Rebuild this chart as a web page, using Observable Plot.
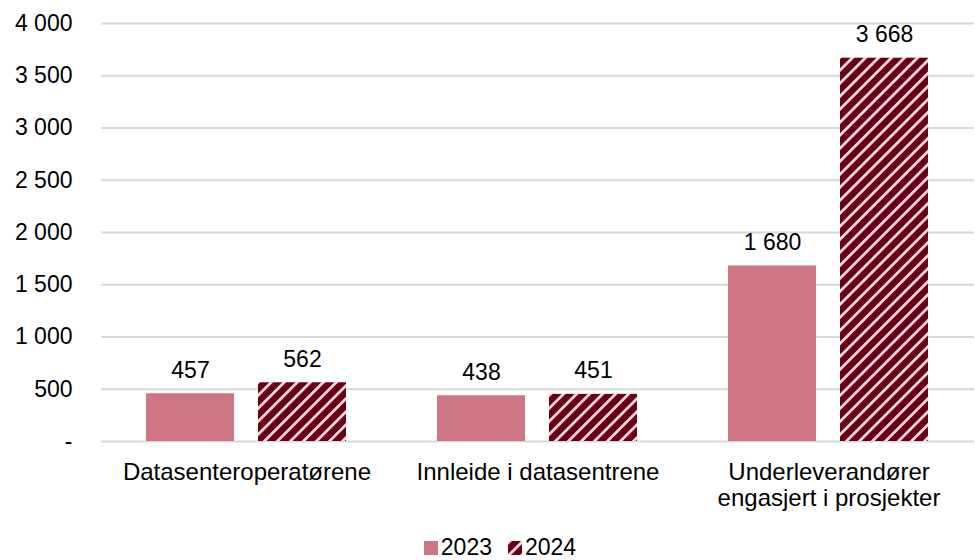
<!DOCTYPE html>
<html>
<head>
<meta charset="utf-8">
<script src="https://cdn.jsdelivr.net/npm/d3@7"></script>
<script src="https://cdn.jsdelivr.net/npm/@observablehq/plot@0.6"></script>
<style>
  html, body { margin: 0; padding: 0; background: #fff; }
  body { width: 975px; height: 560px; overflow: hidden; font-family: "Liberation Sans", Arial, sans-serif; }
  #legend { display: flex; justify-content: center; align-items: center; height: 35px; margin-top: 5px; font-size: 23px; color: #000; padding-left: 25px; }
  #legend .item { display: flex; align-items: center; margin: 0 8px; }
  #legend svg { margin-right: 3px; }
</style>
</head>
<body>
<div id="chart"></div>
<div id="legend"></div>
<script>
const categories = ["Datasenteroperatørene", "Innleide i datasentrene", "Underleverandører engasjert i prosjekter"];
const years = ["2023", "2024"];
const values2023 = [457, 438, 1680];
const values2024 = [562, 451, 3668];
const yTicks = [0, 500, 1000, 1500, 2000, 2500, 3000, 3500, 4000];
const colors = ["#CE7683", "url(#hatch2024)"];

const data = categories.flatMap((c, i) => [
  {category: c, year: years[0], value: values2023[i]},
  {category: c, year: years[1], value: values2024[i]}
]);

const locale = d3.formatLocale({decimal: ",", thousands: " ", grouping: [3], currency: ["", ""]});
const fmt = locale.format(",d");
const yFmt = d => d === 0 ? "-" : fmt(d);
const catFmt = d => d === "Underleverandører engasjert i prosjekter" ? "Underleverandører\nengasjert i prosjekter" : d;

const chart = Plot.plot({
  width: 975,
  height: 525,
  marginLeft: 100,
  marginRight: 0,
  marginTop: 23,
  marginBottom: 84,
  style: {fontFamily: '"Liberation Sans", Arial, sans-serif', fontSize: "23px", color: "#000", background: "#fff"},
  fx: {domain: categories, padding: 0, label: null, axis: null},
  x: {domain: years, axis: null, paddingInner: 0.21, paddingOuter: 0.4},
  y: {domain: [0, 4000], label: null},
  color: {domain: years, range: colors},
  marks: [
    Plot.gridY(yTicks, {stroke: "#D9D9D9", strokeOpacity: 1, strokeWidth: 2}),
    Plot.axisY(yTicks, {tickSize: 0, tickPadding: 29, tickFormat: yFmt, fontSize: 23, label: null}),
    Plot.axisFx({anchor: "bottom", tickSize: 0, tickPadding: 19, tickFormat: catFmt, fontSize: 24, label: null, lineHeight: 1.12}),
    Plot.barY(data, {fx: "category", x: "year", y: "value", fill: "year"}),
    Plot.text(data, {fx: "category", x: "year", y: "value", text: d => fmt(d.value), dy: -16, lineAnchor: "bottom", fontSize: 23, fill: "#000"})
  ]
});

// pattern definition
const ns = "http://www.w3.org/2000/svg";
function makeDefs(svg, id) {
  const defs = document.createElementNS(ns, "defs");
  const pat = document.createElementNS(ns, "pattern");
  pat.setAttribute("id", id);
  pat.setAttribute("patternUnits", "userSpaceOnUse");
  pat.setAttribute("width", "9.2");
  pat.setAttribute("height", "9.2");
  pat.setAttribute("patternTransform", "rotate(45)");
  const bg = document.createElementNS(ns, "rect");
  bg.setAttribute("width", "9.2"); bg.setAttribute("height", "9.2"); bg.setAttribute("fill", "#6A0016");
  const st = document.createElementNS(ns, "rect");
  st.setAttribute("x", "0"); st.setAttribute("width", "2.8"); st.setAttribute("height", "9.2"); st.setAttribute("fill", "#F7D9DD");
  pat.appendChild(bg); pat.appendChild(st);
  defs.appendChild(pat);
  svg.insertBefore(defs, svg.firstChild);
}
makeDefs(chart, "hatch2024");
document.getElementById("chart").appendChild(chart);

// legend
const legend = document.getElementById("legend");
years.forEach((y, i) => {
  const item = document.createElement("div");
  item.className = "item";
  const sw = document.createElementNS(ns, "svg");
  sw.setAttribute("width", "14"); sw.setAttribute("height", "14");
  if (i === 1) makeDefs(sw, "hatchLegend");
  const r = document.createElementNS(ns, "rect");
  r.setAttribute("width", "14"); r.setAttribute("height", "14");
  r.setAttribute("fill", i === 1 ? "url(#hatchLegend)" : colors[0]);
  sw.appendChild(r);
  item.appendChild(sw);
  const t = document.createElement("span");
  t.textContent = y;
  item.appendChild(t);
  legend.appendChild(item);
});
</script>
</body>
</html>
